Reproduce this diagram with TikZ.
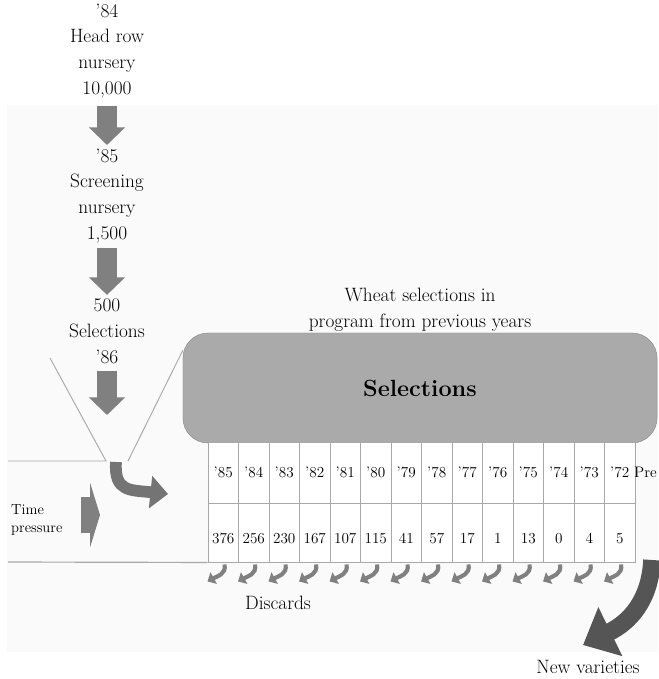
\documentclass[tikz,border=0pt]{standalone}
\usepackage{tikz}
\usetikzlibrary{arrows.meta,calc}
\definecolor{sel-gray}{HTML}{AAAAAA}
\definecolor{sel-edge}{HTML}{8C8C8C}
\definecolor{arr-gray}{HTML}{808080}
\definecolor{arr-mid}{HTML}{747474}
\definecolor{arr-dark}{HTML}{555555}
\definecolor{line-gray}{HTML}{A8A8A8}
\definecolor{panel-gray}{HTML}{FAFAFA}

\begin{document}
\begin{tikzpicture}[x=0.03cm, y=-0.03cm,
    txt/.style={align=center, inner sep=0pt, font=\fontsize{16.5}{22}\selectfont},
    selbox/.style={draw=sel-edge, fill=sel-gray, rounded corners=0.75cm,
                   minimum width=14.22cm, minimum height=3.3cm,
                   font=\fontsize{20}{24}\selectfont\bfseries},
    cell/.style={draw=line-gray, fill=white, line width=0.8pt, minimum width=0.915cm,
                 inner sep=0pt, font=\fontsize{13}{15}\selectfont},
    down/.style={arr-gray, line width=17pt, -{Triangle[length=15pt, width=30pt]}},
    discard/.style={arr-gray, line width=3.5pt, -{Triangle[length=6pt, width=11pt]}},
    funnel/.style={line-gray, line width=0.8pt},
  ]
    \useasboundingbox (0,0) rectangle (658,679);
    \fill[panel-gray] (7,105) rectangle (658,652);

    % Nurseries
    \node[txt] (t84) at (107,51) {'84\\Head row\\nursery\\10,000};
    \node[txt] (t85) at (107,196) {'85\\Screening\\nursery\\1,500};
    \node[txt] (t86) at (107,331) {500\\Selections\\'86};
    \coordinate (fun) at (107,415);

    \draw[down, shorten <=6pt, shorten >=3pt] (t84.south) -- (t85.north);
    \draw[down, shorten <=4pt, shorten >=3pt] (t85.south) -- (t86.north);
    \draw[down, shorten <=6pt] (t86.south) -- (fun);

    % Funnel
    \draw[funnel] (50,358) -- (106,461) -- (8,461);
    \draw[funnel] (183,350) -- (128,461);
    \draw[arr-mid, line width=10pt, -{Triangle[length=15pt, width=27pt]}]
      (116,462) .. controls (114,492) and (130,490) .. (168,494);

    % Time pressure
    \node[align=left, anchor=west, inner sep=0pt, font=\fontsize{12.5}{15.5}\selectfont]
      (time) at (11,520) {Time\\pressure};
    \draw[arr-gray, line width=30pt, -{Triangle[length=8.5pt, width=55pt]}]
      (81,515) -- (100,515);

    % Program
    \node[txt] (wheat) at (420,310) {Wheat selections in\\program from previous years};
    \node[selbox] (sel) at (420,388) {Selections};

    \foreach \yr/\num [count=\i] in {85/376, 84/256, 83/230, 82/167, 81/107, 80/115,
        79/41, 78/57, 77/17, 76/1, 75/13, 74/0, 73/4, 72/5} {
      \node[cell, minimum height=1.83cm, text height=8.5pt, text depth=0pt]
        (h\i) at ({208+30.5*(\i-0.5)}, 472.5) {'\yr};
      \node[cell, minimum height=1.77cm, text height=18pt, text depth=0pt]
        (v\i) at ({208+30.5*(\i-0.5)}, 532.5) {\num};
      \draw[discard] ($(v\i.south west)+(17,2)$) .. controls +(2,10) and +(9,-5) ..
        ($(v\i.south west)+(0,19)$);
    }
    \node[anchor=east, inner sep=0pt, font=\fontsize{13}{15}\selectfont,
          text height=8.5pt] (pre) at (657,472.5) {Pre};

    \draw[line-gray, line width=1pt] (8,562) -- (v1.south west);

    % Outcomes
    \node[txt] (disc) at (278,603) {Discards};
    \node[txt] (newv) at (588,667) {New varieties};
    \coordinate (nv) at (583,645);
    \draw[arr-dark, line width=15pt, -{Triangle[length=26pt, width=45pt]}]
      (652,560) .. controls (650,600) and (630,622) .. (nv);
  \end{tikzpicture}
\end{document}
